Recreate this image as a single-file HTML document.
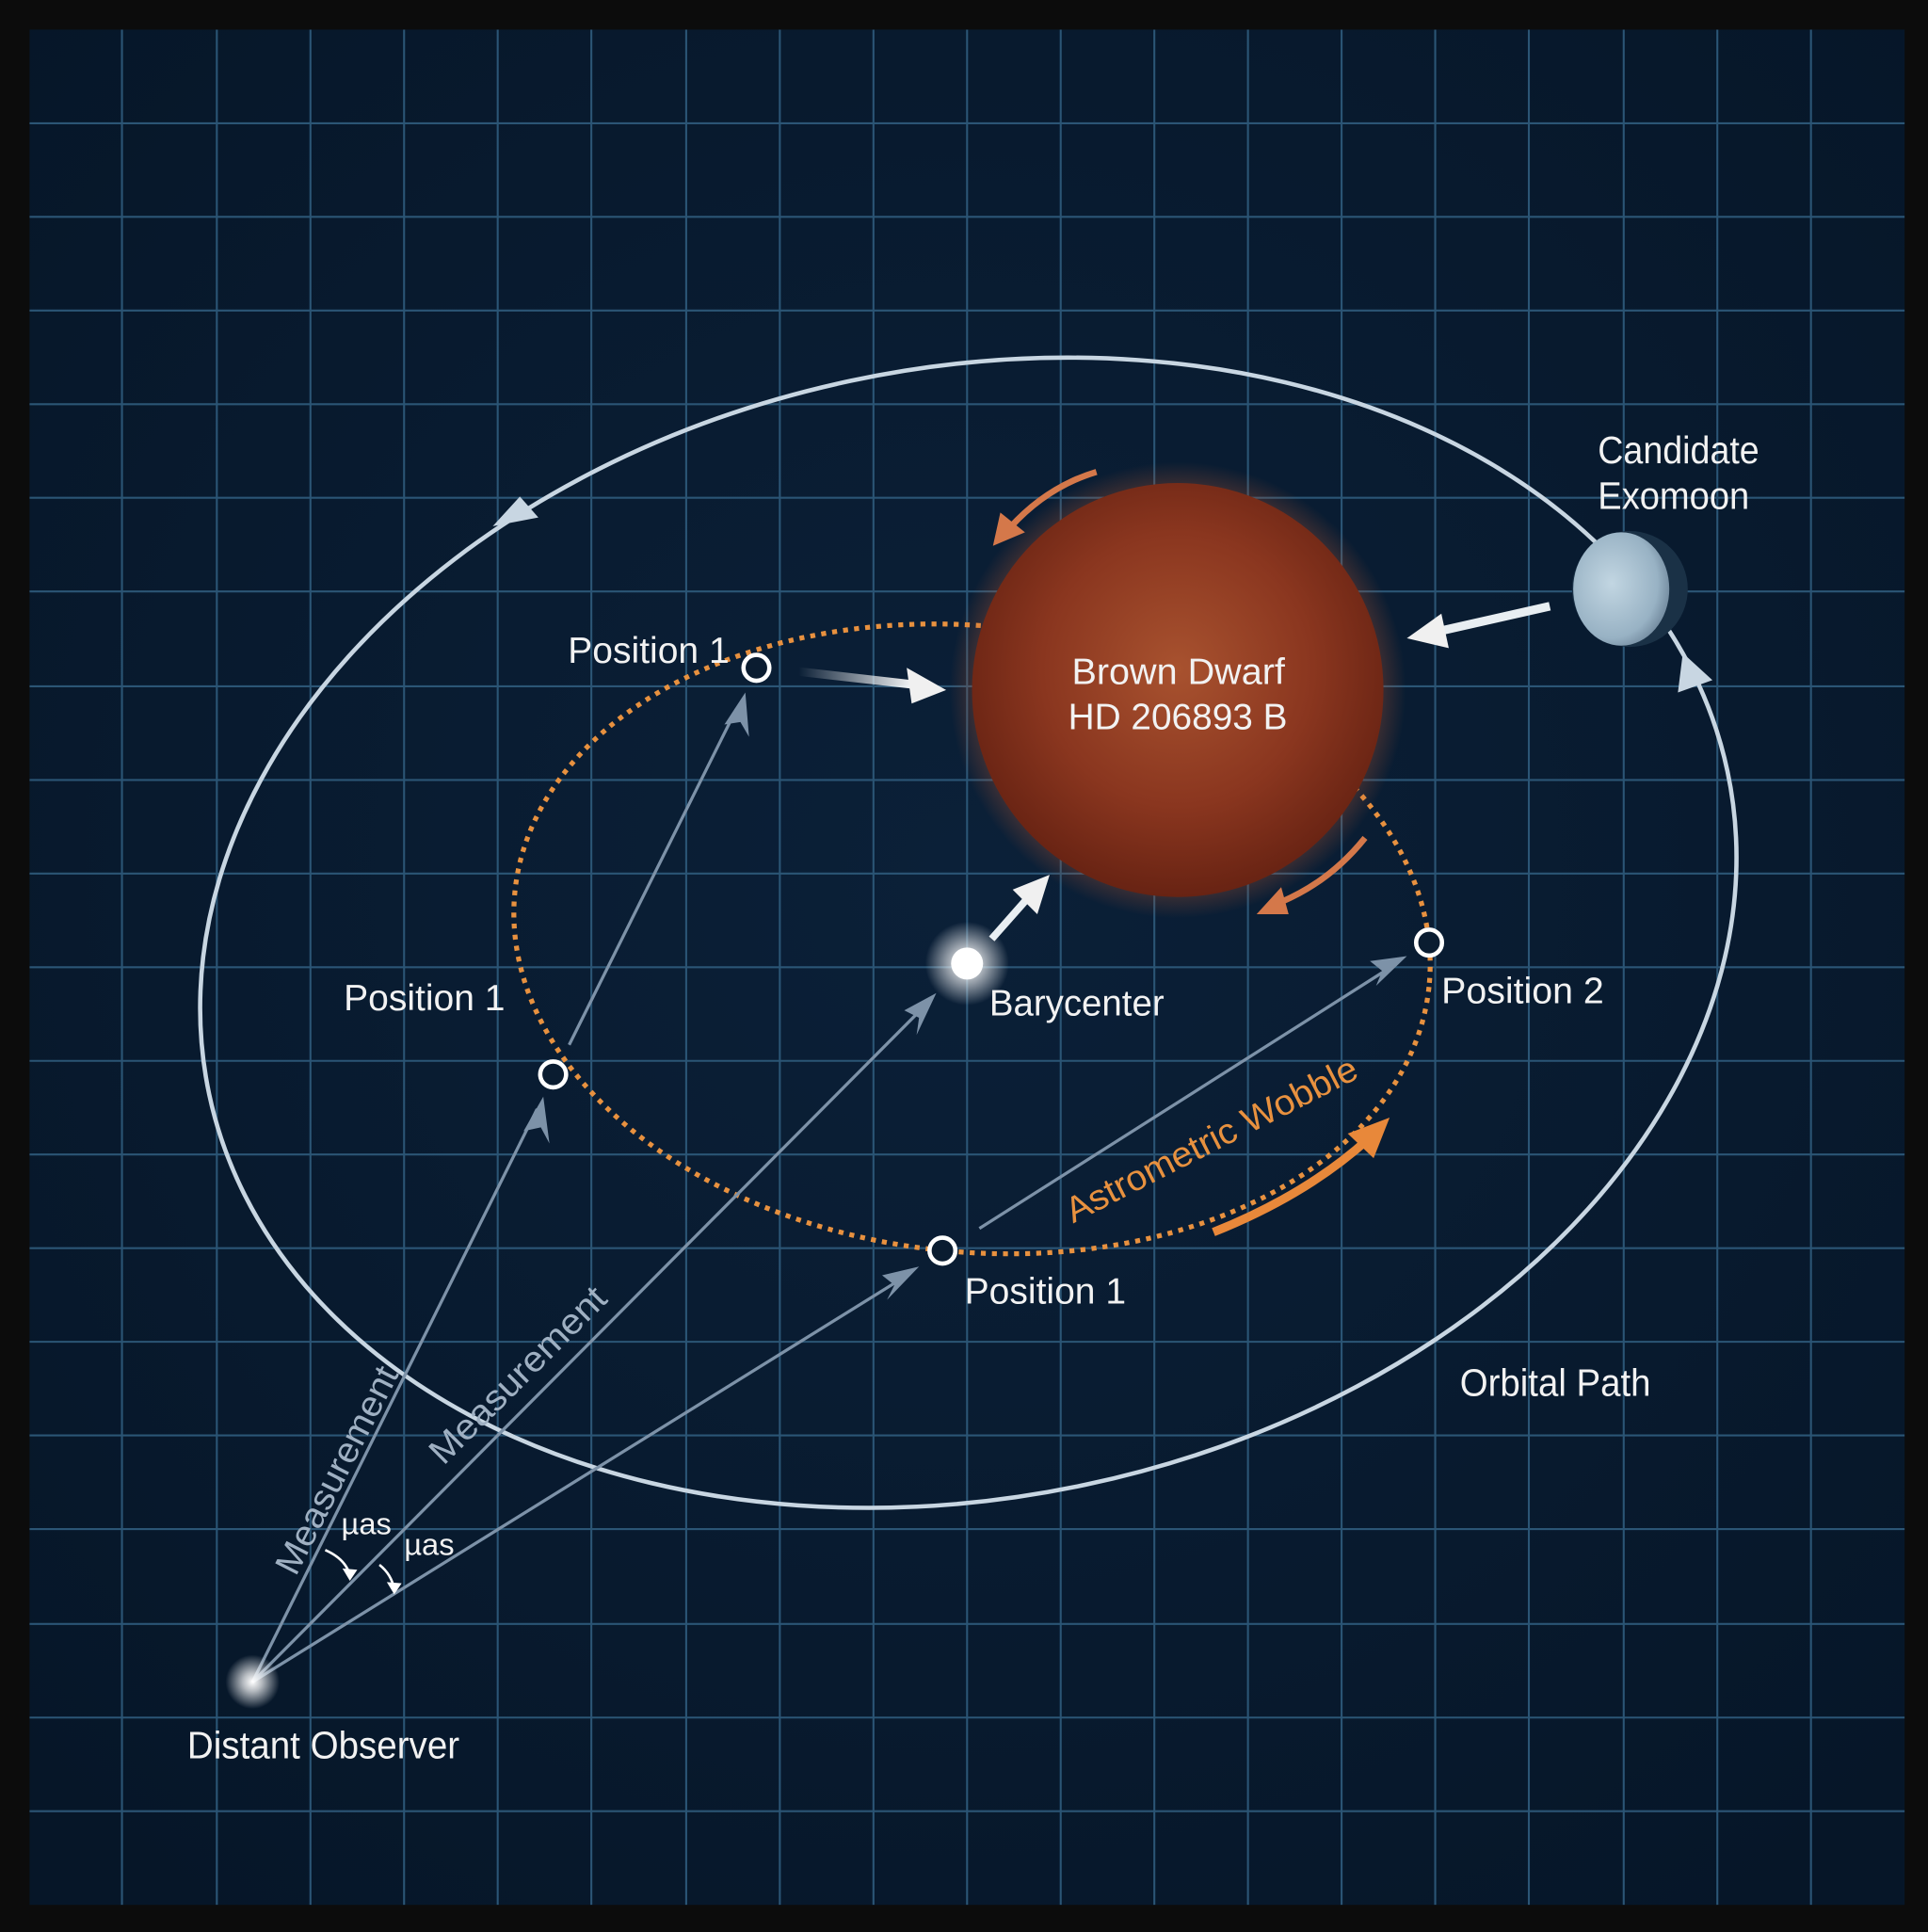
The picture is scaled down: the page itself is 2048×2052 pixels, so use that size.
<!DOCTYPE html>
<html><head><meta charset="utf-8"><style>
html,body{margin:0;padding:0;background:#0c0c0c}
svg{display:block}
text{font-family:"Liberation Sans",sans-serif;fill:#f2f2f2}
</style></head><body>
<svg width="2048" height="2052" viewBox="0 0 1565 1568" xmlns="http://www.w3.org/2000/svg">
<defs>
<radialGradient id="bg" cx="0.5" cy="0.45" r="0.7">
<stop offset="0" stop-color="#0b2038"/><stop offset="1" stop-color="#061628"/>
</radialGradient>
<radialGradient id="bd" cx="0.5" cy="0.45" r="0.55">
<stop offset="0" stop-color="#a8522f"/><stop offset="0.6" stop-color="#8a361f"/><stop offset="1" stop-color="#682313"/>
</radialGradient>
<radialGradient id="glow" cx="0.5" cy="0.5" r="0.5">
<stop offset="0.8" stop-color="#c05a30" stop-opacity="0.5"/><stop offset="1" stop-color="#c05a30" stop-opacity="0"/>
</radialGradient>
<radialGradient id="moon" cx="0.4" cy="0.45" r="0.6">
<stop offset="0" stop-color="#c2d6e2"/><stop offset="0.8" stop-color="#98b2c4"/><stop offset="1" stop-color="#7890a4"/>
</radialGradient>
<radialGradient id="star" cx="0.5" cy="0.5" r="0.5">
<stop offset="0" stop-color="#fff"/><stop offset="0.35" stop-color="#fff" stop-opacity="0.7"/><stop offset="1" stop-color="#fff" stop-opacity="0"/>
</radialGradient>
<linearGradient id="wfade" x1="0" y1="0" x2="1" y2="0">
<stop offset="0" stop-color="#fff" stop-opacity="0"/><stop offset="1" stop-color="#fff"/>
</linearGradient>
</defs>
<rect width="1565" height="1568" fill="#0c0c0c"/>
<rect x="24" y="24" width="1522" height="1522" fill="url(#bg)"/>
<g stroke="#2b5575" stroke-width="1.6">
<path d="M99 24V1546M176 24V1546M252 24V1546M328 24V1546M404 24V1546M480 24V1546M557 24V1546M633 24V1546M709 24V1546M785 24V1546M861 24V1546M937 24V1546M1013 24V1546M1089 24V1546M1165 24V1546M1241 24V1546M1318 24V1546M1394 24V1546M1470 24V1546"/>
<path d="M24 100H1546M24 176H1546M24 252H1546M24 328H1546M24 404H1546M24 480H1546M24 557H1546M24 633H1546M24 709H1546M24 785H1546M24 861H1546M24 937H1546M24 1013H1546M24 1089H1546M24 1165H1546M24 1241H1546M24 1318H1546M24 1394H1546M24 1470H1546"/>
</g>
<ellipse cx="786" cy="757" rx="630" ry="458" transform="rotate(-12 786 757)" fill="none" stroke="#c8d6e2" stroke-width="3.5"/>
<polygon points="400,427 437,420 422,403" fill="#c8d6e2"/>
<polygon points="1366,530 1362,562 1390,552" fill="#c8d6e2"/>
<ellipse cx="789" cy="762" rx="373" ry="254" transform="rotate(6 789 762)" fill="none" stroke="#e8913f" stroke-width="4" stroke-dasharray="4 5"/>
<g stroke="#7d92a8" stroke-width="2.5" fill="none">
<line x1="205" y1="1365" x2="436" y2="900"/>
<line x1="205" y1="1365" x2="752" y2="815"/>
<line x1="205" y1="1365" x2="738" y2="1034"/>
<line x1="462" y1="848" x2="598" y2="575"/>
<line x1="795" y1="997" x2="1132" y2="783"/>
</g>
<g fill="#7d92a8">
<polygon points="441,890 425,918 439,915 446,928"/>
<polygon points="760,806 734,820 746,826 744,840"/>
<polygon points="746,1028 716,1035 726,1043 720,1055"/>
<polygon points="605,562 588,588 601,586 608,598"/>
<polygon points="1142,776 1112,780 1122,788 1117,800"/>
</g>
<circle cx="956" cy="560" r="185" fill="url(#glow)"/>
<ellipse cx="956" cy="560" rx="167" ry="168" fill="url(#bd)"/>
<text x="870" y="555" font-size="30" textLength="173" lengthAdjust="spacingAndGlyphs">Brown Dwarf</text>
<text x="867" y="592" font-size="30" textLength="178" lengthAdjust="spacingAndGlyphs">HD 206893 B</text>
<circle cx="1323" cy="478" r="47" fill="#1a3146"/>
<ellipse cx="1316" cy="478" rx="39" ry="46" fill="url(#moon)"/>
<text x="1297" y="376" font-size="31" textLength="131" lengthAdjust="spacingAndGlyphs">Candidate</text>
<text x="1297" y="413" font-size="31" textLength="123" lengthAdjust="spacingAndGlyphs">Exomoon</text>
<path d="M890 383 Q850 395 820 428" stroke="#d4784a" stroke-width="5" fill="none"/>
<polygon points="806,443 812,416 832,432" fill="#d4784a"/>
<path d="M1108 680 Q1080 715 1040 732" stroke="#d4784a" stroke-width="5" fill="none"/>
<polygon points="1020,742 1040,720 1046,742" fill="#d4784a"/>
<path d="M985 1000 Q1060 970 1110 925" stroke="#e8883a" stroke-width="7" fill="none"/>
<polygon points="1128,907 1094,920 1115,940" fill="#e8883a"/>
<path d="M648 545 L745 556" stroke="url(#wfade)" stroke-width="7" fill="none"/>
<polygon points="768,560 736,542 740,571" fill="#f0f0f0"/>
<path d="M1258 492 L1165 513" stroke="#e8eef2" stroke-width="7" fill="none"/>
<polygon points="1142,518 1170,498 1176,526" fill="#f0f0f0"/>
<path d="M805 762 L835 728" stroke="#e8eef2" stroke-width="6" fill="none"/>
<polygon points="852,710 822,722 842,742" fill="#f0f0f0"/>
<circle cx="785" cy="782" r="34" fill="url(#star)"/>
<circle cx="785" cy="782" r="13" fill="#fff"/>
<text x="803" y="824" font-size="30" textLength="142" lengthAdjust="spacingAndGlyphs">Barycenter</text>
<circle cx="205" cy="1365" r="22" fill="url(#star)"/>
<text x="152" y="1427" font-size="31" textLength="221" lengthAdjust="spacingAndGlyphs">Distant Observer</text>
<g fill="#0a1c30" stroke="#fff" stroke-width="3.5">
<circle cx="614" cy="542" r="10.5"/>
<circle cx="449" cy="872" r="10.5"/>
<circle cx="765" cy="1015" r="10.5"/>
<circle cx="1160" cy="765" r="10.5"/>
</g>
<text x="461" y="538" font-size="30" textLength="131" lengthAdjust="spacingAndGlyphs">Position 1</text>
<text x="279" y="820" font-size="30" textLength="131" lengthAdjust="spacingAndGlyphs">Position 1</text>
<text x="783" y="1058" font-size="30" textLength="131" lengthAdjust="spacingAndGlyphs">Position 1</text>
<text x="1170" y="814" font-size="30" textLength="132" lengthAdjust="spacingAndGlyphs">Position 2</text>
<text x="1185" y="1133" font-size="31" textLength="155" lengthAdjust="spacingAndGlyphs">Orbital Path</text>
<text transform="translate(240,1280) rotate(-63)" font-size="29" textLength="185" lengthAdjust="spacingAndGlyphs" style="fill:#9fb0c2">Measurement</text>
<text transform="translate(360,1190) rotate(-45)" font-size="29" textLength="190" lengthAdjust="spacingAndGlyphs" style="fill:#9fb0c2">Measurement</text>
<text transform="translate(871,993) rotate(-27)" font-size="29" textLength="262" lengthAdjust="spacingAndGlyphs" style="fill:#e8913f">Astrometric Wobble</text>
<text x="277" y="1245" font-size="25">µas</text>
<text x="328" y="1262" font-size="25">µas</text>
<g stroke="#fff" stroke-width="2" fill="none">
<path d="M264 1258 Q280 1265 284 1278"/>
<path d="M308 1270 Q318 1278 320 1290"/>
</g>
<polygon points="284,1283 278,1273 290,1274" fill="#fff"/>
<polygon points="320,1294 314,1284 326,1285" fill="#fff"/>
</svg>
</body></html>
